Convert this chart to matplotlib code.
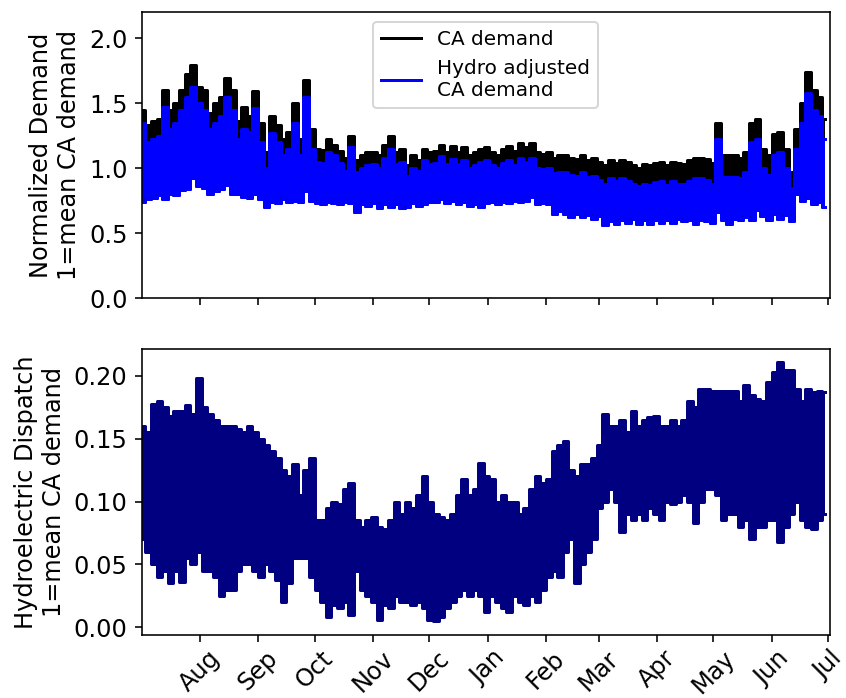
import numpy as np
import matplotlib
matplotlib.use('Agg')
import matplotlib.pyplot as plt
import matplotlib.dates as mdates

days = np.arange(0, 366, 3)

# CA demand, daily peak (normalized, 1 = mean CA demand)
ca_hi = [1.45, 1.33, 1.36, 1.38, 1.60, 1.45, 1.50, 1.60, 1.72, 1.79,
         1.62, 1.60, 1.42, 1.50, 1.55, 1.69, 1.60, 1.36, 1.47, 1.40,
         1.59, 1.35, 1.12, 1.40, 1.33, 1.22, 1.28, 1.50, 1.22, 1.68,
         1.30, 1.15, 1.14, 1.22, 1.18, 1.13, 1.08, 1.25, 1.06, 1.10,
         1.12, 1.12, 1.10, 1.18, 1.25, 1.12, 1.15, 1.02, 1.10, 1.06,
         1.15, 1.12, 1.13, 1.18, 1.12, 1.17, 1.12, 1.16, 1.10, 1.12,
         1.15, 1.16, 1.12, 1.10, 1.15, 1.17, 1.13, 1.19, 1.16, 1.19,
         1.12, 1.11, 1.12, 1.08, 1.10, 1.10, 1.08, 1.07, 1.10, 1.06,
         1.08, 1.05, 1.02, 1.06, 1.04, 1.06, 1.05, 1.02, 1.00, 1.03,
         1.02, 1.04, 1.05, 1.02, 1.05, 1.04, 1.03, 1.06, 1.08, 1.08,
         1.07, 1.04, 1.35, 1.10, 1.10, 1.10, 1.08, 1.12, 1.35, 1.38,
         1.15, 1.10, 1.26, 1.28, 1.15, 0.97, 1.30, 1.50, 1.74, 1.60,
         1.55, 1.38]

# hydro adjusted CA demand, daily peak and daily minimum
adj_hi = [1.35, 1.20, 1.22, 1.25, 1.47, 1.30, 1.35, 1.45, 1.55, 1.62,
          1.50, 1.45, 1.30, 1.35, 1.40, 1.55, 1.45, 1.22, 1.30, 1.28,
          1.46, 1.20, 1.00, 1.27, 1.20, 1.10, 1.15, 1.35, 1.10, 1.55,
          1.15, 1.05, 1.04, 1.12, 1.10, 1.04, 0.98, 1.16, 0.97, 1.00,
          1.02, 1.03, 1.00, 1.08, 1.15, 1.03, 1.05, 0.94, 1.00, 0.98,
          1.06, 1.03, 1.04, 1.09, 1.03, 1.07, 1.03, 1.06, 1.00, 1.02,
          1.05, 1.06, 1.02, 1.00, 1.04, 1.06, 1.02, 1.08, 1.05, 1.08,
          1.00, 0.99, 1.00, 0.96, 0.97, 0.97, 0.95, 0.94, 0.97, 0.93,
          0.94, 0.91, 0.88, 0.92, 0.90, 0.92, 0.90, 0.88, 0.86, 0.88,
          0.87, 0.89, 0.90, 0.87, 0.90, 0.88, 0.88, 0.90, 0.92, 0.92,
          0.91, 0.88, 1.22, 0.93, 0.93, 0.93, 0.92, 0.97, 1.20, 1.22,
          1.00, 0.95, 1.10, 1.12, 1.00, 0.85, 1.15, 1.35, 1.58, 1.45,
          1.40, 1.22]
adj_lo = [0.74, 0.76, 0.77, 0.79, 0.76, 0.80, 0.79, 0.83, 0.84, 0.92,
          0.86, 0.85, 0.80, 0.82, 0.84, 0.87, 0.80, 0.80, 0.78, 0.77,
          0.80, 0.76, 0.70, 0.74, 0.73, 0.76, 0.74, 0.75, 0.74, 0.82,
          0.75, 0.73, 0.72, 0.74, 0.73, 0.72, 0.74, 0.73, 0.66, 0.72,
          0.71, 0.73, 0.69, 0.72, 0.70, 0.72, 0.69, 0.70, 0.73, 0.71,
          0.72, 0.74, 0.74, 0.76, 0.73, 0.75, 0.72, 0.74, 0.71, 0.72,
          0.70, 0.73, 0.74, 0.72, 0.74, 0.73, 0.75, 0.74, 0.75, 0.78,
          0.72, 0.73, 0.72, 0.65, 0.67, 0.65, 0.62, 0.65, 0.62, 0.64,
          0.61, 0.63, 0.56, 0.59, 0.57, 0.60, 0.58, 0.61, 0.57, 0.60,
          0.57, 0.60, 0.58, 0.60, 0.58, 0.61, 0.59, 0.60, 0.57, 0.60,
          0.59, 0.58, 0.66, 0.60, 0.57, 0.61, 0.60, 0.62, 0.60, 0.68,
          0.63, 0.60, 0.65, 0.61, 0.64, 0.59, 0.80, 0.75, 0.77, 0.72,
          0.74, 0.70]

# hydroelectric dispatch, daily max and min
hyd_hi = [0.160, 0.155, 0.178, 0.180, 0.175, 0.168, 0.172, 0.172, 0.177, 0.170,
          0.198, 0.175, 0.170, 0.165, 0.160, 0.160, 0.160, 0.158, 0.155, 0.160,
          0.155, 0.150, 0.145, 0.140, 0.135, 0.125, 0.120, 0.130, 0.105, 0.125,
          0.135, 0.085, 0.085, 0.095, 0.100, 0.098, 0.110, 0.115, 0.085, 0.080,
          0.085, 0.088, 0.080, 0.078, 0.085, 0.100, 0.090, 0.100, 0.095, 0.105,
          0.120, 0.100, 0.090, 0.088, 0.085, 0.090, 0.105, 0.118, 0.105, 0.110,
          0.131, 0.120, 0.118, 0.100, 0.105, 0.100, 0.100, 0.090, 0.095, 0.110,
          0.120, 0.115, 0.118, 0.140, 0.145, 0.148, 0.125, 0.120, 0.130, 0.130,
          0.135, 0.145, 0.170, 0.160, 0.160, 0.165, 0.155, 0.172, 0.160, 0.165,
          0.167, 0.168, 0.160, 0.160, 0.165, 0.160, 0.165, 0.180, 0.175, 0.190,
          0.190, 0.188, 0.188, 0.188, 0.188, 0.188, 0.180, 0.193, 0.185, 0.182,
          0.180, 0.195, 0.203, 0.211, 0.205, 0.205, 0.190, 0.180, 0.190, 0.187,
          0.188, 0.187]
hyd_lo = [0.070, 0.060, 0.050, 0.040, 0.045, 0.035, 0.045, 0.036, 0.055, 0.050,
          0.060, 0.045, 0.045, 0.040, 0.025, 0.030, 0.030, 0.045, 0.050, 0.050,
          0.045, 0.040, 0.050, 0.045, 0.038, 0.020, 0.035, 0.055, 0.055, 0.055,
          0.040, 0.030, 0.020, 0.008, 0.018, 0.015, 0.020, 0.010, 0.045, 0.030,
          0.025, 0.020, 0.006, 0.018, 0.015, 0.025, 0.020, 0.020, 0.018, 0.020,
          0.015, 0.006, 0.005, 0.008, 0.015, 0.020, 0.025, 0.030, 0.025, 0.030,
          0.025, 0.012, 0.025, 0.020, 0.015, 0.012, 0.025, 0.020, 0.018, 0.025,
          0.020, 0.030, 0.040, 0.045, 0.040, 0.060, 0.070, 0.035, 0.050, 0.060,
          0.070, 0.095, 0.100, 0.110, 0.100, 0.076, 0.090, 0.085, 0.090, 0.085,
          0.095, 0.090, 0.085, 0.100, 0.098, 0.100, 0.105, 0.100, 0.083, 0.100,
          0.110, 0.110, 0.105, 0.085, 0.090, 0.090, 0.080, 0.085, 0.070, 0.080,
          0.080, 0.085, 0.085, 0.068, 0.080, 0.090, 0.100, 0.085, 0.080, 0.078,
          0.085, 0.090]

start = np.datetime64('2018-07-01T01')
end = np.datetime64('2019-07-02T00')
dates = np.datetime64('2018-07-01T12') + (days * 24).astype('timedelta64[h]')


def band(ax, lo, hi, color, label=None):
    # filled daily swing, outlined in steps so the edges stay jagged
    ax.fill_between(dates, lo, hi, color=color, lw=0, step='mid')
    ax.plot(dates, hi, color=color, lw=1.5, drawstyle='steps-mid', label=label)
    ax.plot(dates, lo, color=color, lw=1.5, drawstyle='steps-mid')


plt.rcParams['font.size'] = 12
fig, (ax1, ax2) = plt.subplots(2, 1, sharex=True, figsize=(846 / 144, 698 / 144), dpi=144)
fig.subplots_adjust(left=0.1673, right=0.981, top=0.9828, bottom=0.09, hspace=0.178)

# top panel: demand
band(ax1, adj_lo, ca_hi, 'black', 'CA demand')
band(ax1, adj_lo, adj_hi, 'blue', 'Hydro adjusted\nCA demand')
ax1.set_ylim(0, 2.2)
ax1.set_ylabel('Normalized Demand\n1=mean CA demand')
ax1.legend(loc='upper center', fontsize=10)

# bottom panel: hydro dispatch
band(ax2, hyd_lo, hyd_hi, 'navy')
ax2.set_ylim(-0.0063, 0.2214)
ax2.set_yticks([0.0, 0.05, 0.10, 0.15, 0.20])
ax2.set_ylabel('Hydroelectric Dispatch\n1=mean CA demand')

ax2.set_xlim(start, end)
ax2.xaxis.set_major_locator(mdates.MonthLocator())
ax2.xaxis.set_major_formatter(mdates.DateFormatter('%b'))
ax2.tick_params(axis='x', pad=2)
plt.setp(ax2.get_xticklabels(), rotation=45)

fig.savefig('out.png', dpi=144)
